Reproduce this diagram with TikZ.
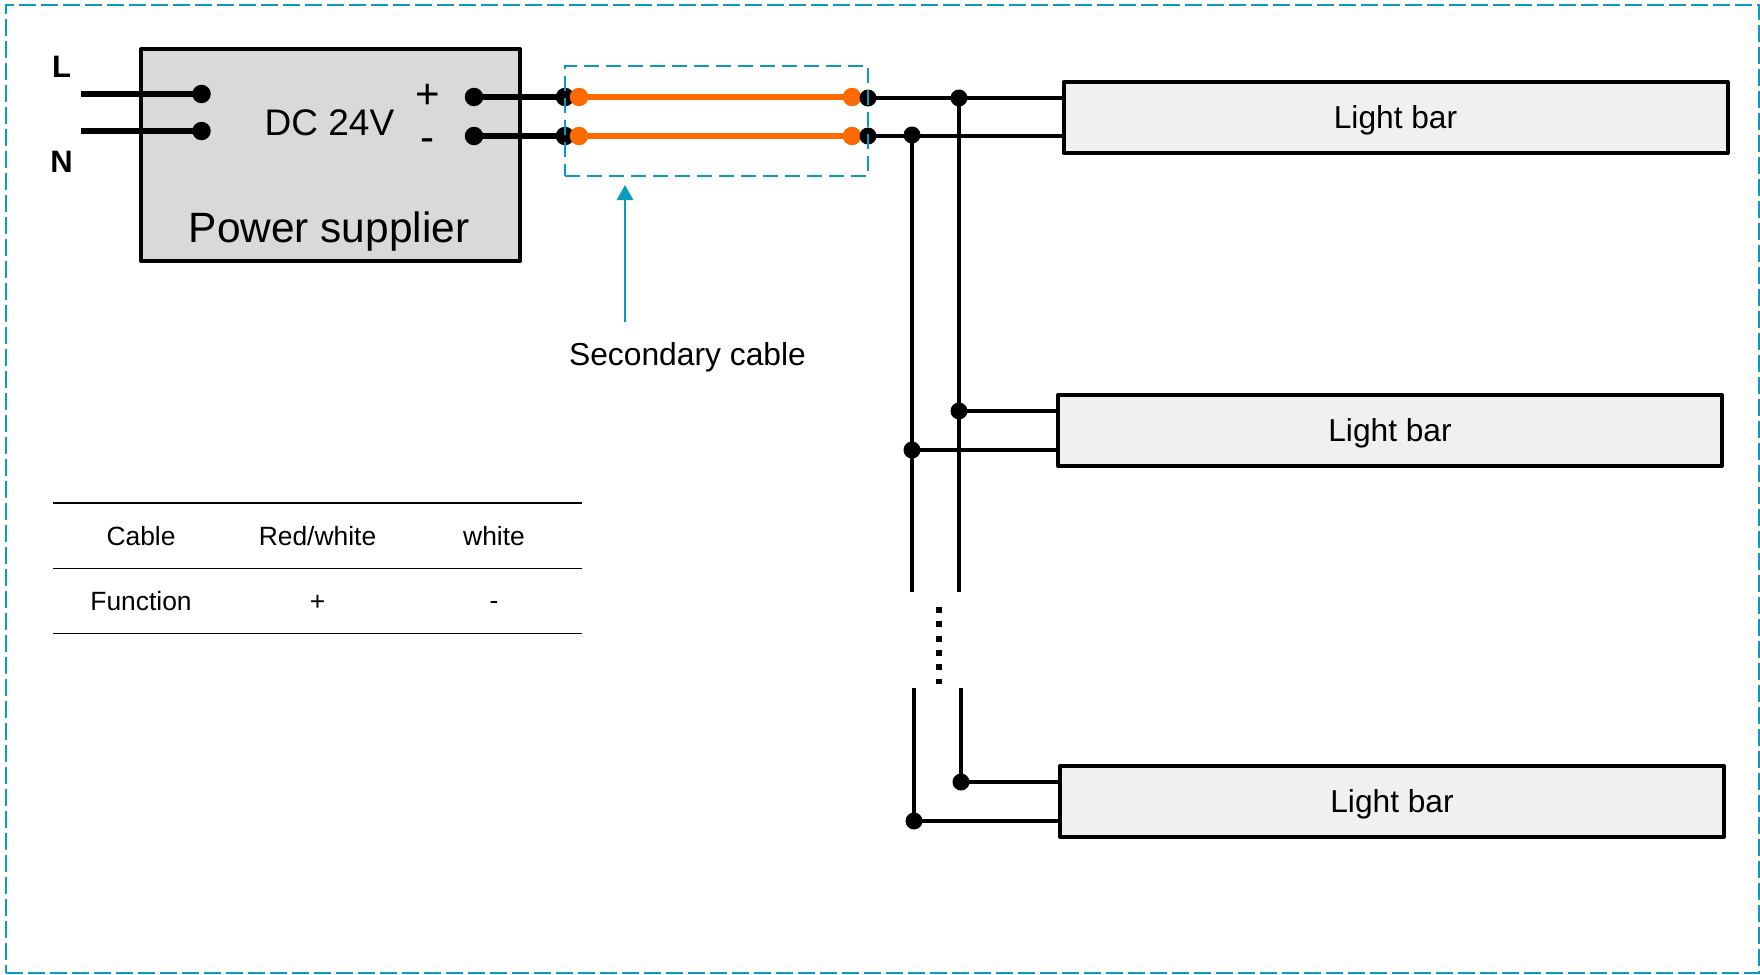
\documentclass[tikz,border=0pt]{standalone}
\usepackage{fontspec}
\setmainfont{Liberation Sans}
\usetikzlibrary{arrows.meta}
\definecolor{cy}{HTML}{0A9CBF}
\definecolor{org}{HTML}{FF6A00}
\newcommand{\fsz}[1]{\fontsize{#1}{#1}\selectfont}
\tikzset{
  psubox/.style={draw=black,fill=black!15,line width=4pt,line join=round},
  barbox/.style={draw=black,fill=black!6,line width=4pt,line join=round,anchor=north west,inner sep=0pt,font=\fsz{31.7},text depth=0pt},
  bdot/.style={circle,fill=black,inner sep=0pt,minimum size=18.5pt},
  jdot/.style={circle,fill=black,inner sep=0pt,minimum size=17pt},
  odot/.style={circle,fill=org,inner sep=0pt,minimum size=18.5pt},
  heavy/.style={line width=5.2pt,black},
  thinw/.style={line width=4pt,black},
  orw/.style={line width=6pt,org},
  cyframe/.style={draw=cy,line width=2pt,dash pattern=on 17pt off 5pt},
  cybox/.style={draw=cy,line width=1.8pt,dash pattern=on 15pt off 7pt},
  cell/.style={font=\fsz{26.4},inner sep=0pt},
  rule/.style={line width=1.8pt,black}
}
\begin{document}
\begin{tikzpicture}[x=1pt,y=-1pt]
\useasboundingbox (0,0) rectangle (1760,974);
% outer frame
\node[cyframe,minimum width=1753pt,minimum height=968pt,anchor=north west,inner sep=0pt] (frame) at (5,4) {};
% power supply
\node[psubox,minimum width=379pt,minimum height=212pt,anchor=north west,inner sep=0pt] (psu) at (139,47) {};
\node[font=\fsz{37}] (dc) at (329.5,123) {DC 24V};
\node[font=\fsz{42.4}] (ps) at (329,231.5) {Power supplier};
\node[font=\fsz{42}] (plus) at (427.5,96) {+};
\node[font=\fsz{42}] (minus) at (427,145.5) {-};
\node[font=\bfseries\fsz{31}] (lbl) at (61.5,67) {L};
\node[font=\bfseries\fsz{31}] (nbl) at (61.5,162) {N};
% input
\coordinate (lfree) at (81,94);
\coordinate (nfree) at (81,131);
\node[bdot] (ld) at (201.5,94) {};
\node[bdot] (nd) at (201.5,131) {};
\draw[heavy] (lfree) -- (ld.center);
\draw[heavy] (nfree) -- (nd.center);
% output
\node[bdot] (pa) at (474,97) {};
\node[bdot] (ma) at (474,136) {};
\node[bdot] (pb) at (565,97) {};
\node[bdot] (mb) at (565,136) {};
\draw[heavy] (pa.center) -- (pb.center);
\draw[heavy] (ma.center) -- (mb.center);
\node[odot] (pc) at (579,97) {};
\node[odot] (mc) at (579,136) {};
\node[odot] (pd) at (852,97) {};
\node[odot] (md) at (852,136) {};
\draw[orw] (pc.center) -- (pd.center);
\draw[orw] (mc.center) -- (md.center);
\node[jdot] (pe) at (868,98) {};
\node[jdot] (me) at (868,136) {};
% light bars
\node[barbox,minimum width=664pt,minimum height=71pt] (b1) at (1061.5,80) {Light bar};
\node[barbox,minimum width=664pt,minimum height=71pt] (b2) at (1056,393) {Light bar};
\node[barbox,minimum width=664pt,minimum height=71pt] (b3) at (1058,764) {Light bar};
% bus top
\node[jdot] (j1) at (959,98) {};
\node[jdot] (j2) at (912,135) {};
\draw[thinw] (pe.center) -- (b1.west |- pe);
\draw[thinw] (me.center) -- (b1.west |- me);
\node[jdot] (j3) at (959,411) {};
\node[jdot] (j4) at (912,450) {};
\coordinate (e1) at (959,592);
\coordinate (e2) at (912,592);
\draw[thinw] (j1.center) -- (e1);
\draw[thinw] (j2.center) -- (e2);
\draw[thinw] (j3.center) -- (b2.west |- j3);
\draw[thinw] (j4.center) -- (b2.west |- j4);
% bus bottom
\coordinate (s1) at (961,688);
\coordinate (s2) at (914,688);
\node[jdot] (j5) at (961,782) {};
\node[jdot] (j6) at (914,821) {};
\draw[thinw] (s1) -- (j5.center);
\draw[thinw] (s2) -- (j6.center);
\draw[thinw] (j5.center) -- (b3.west |- j5);
\draw[thinw] (j6.center) -- (b3.west |- j6);
% ellipsis
\coordinate (g1) at (939,607);
\coordinate (g2) at (939,684);
\draw[line width=6pt,dash pattern=on 6pt off 8.3pt] (g1) -- (g2);
% secondary cable box
\node[cybox,minimum width=303pt,minimum height=110pt,anchor=north west,inner sep=0pt] (sec) at (564,65) {};
\node[font=\fsz{31.8}] (seclbl) at (687.5,357.5) {Secondary cable};
\coordinate (af) at (625,322);
\coordinate (at) at (625,185);
\draw[cy,line width=2.8pt,-{Triangle[length=15pt,width=16pt]}] (af) -- (at);
% table
\coordinate (r1a) at (53,503); \coordinate (r1b) at (582,503);
\coordinate (r2a) at (53,568.5); \coordinate (r2b) at (582,568.5);
\coordinate (r3a) at (53,633.5); \coordinate (r3b) at (582,633.5);
\draw[rule] (r1a) -- (r1b);
\draw[rule] (r2a) -- (r2b);
\draw[rule] (r3a) -- (r3b);
\node[cell] (c11) at (141,536) {Cable};
\node[cell] (c12) at (317.5,536) {Red/white};
\node[cell] (c13) at (494,536) {white};
\node[cell] (c21) at (141,601) {Function};
\node[cell] (c22) at (317.5,603) {+};
\node[cell] (c23) at (494,605) {-};
\end{tikzpicture}
\end{document}
